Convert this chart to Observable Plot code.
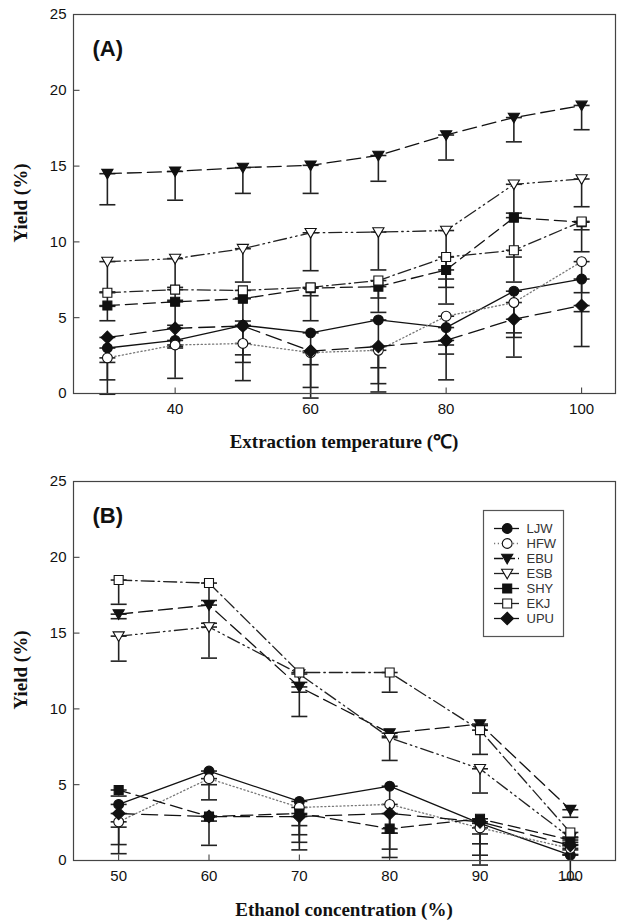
<!DOCTYPE html>
<html>
<head>
<meta charset="utf-8">
<script src="https://cdn.jsdelivr.net/npm/d3@7"></script>
<script src="https://cdn.jsdelivr.net/npm/@observablehq/plot@0.6"></script>
<style>
  html, body { margin: 0; padding: 0; background: #fff; }
  #wrap { position: relative; width: 620px; height: 924px; overflow: hidden; background: #fff; }
  .abs { position: absolute; }
  .title { position: absolute; font-family: "Liberation Serif", "Times New Roman", serif; font-weight: bold; font-size: 19px; color: #111; white-space: nowrap; }
</style>
</head>
<body>
<div id="wrap"></div>
<script>
// ---------------- data ----------------
const seriesNames = ["LJW", "HFW", "EBU", "ESB", "SHY", "EKJ", "UPU"];

// Panel A: extraction temperature (°C)
const tempX = [30, 40, 50, 60, 70, 80, 90, 100];
const A_LJW = [3.0, 3.5, 4.5, 4.0, 4.85, 4.35, 6.75, 7.55];
const A_HFW = [2.35, 3.2, 3.3, 2.7, 2.85, 5.1, 6.0, 8.7];
const A_EBU = [14.5, 14.65, 14.9, 15.05, 15.7, 17.05, 18.2, 19.0];
const A_ESB = [8.7, 8.9, 9.55, 10.6, 10.65, 10.75, 13.8, 14.15];
const A_SHY = [5.8, 6.05, 6.25, 6.95, 7.05, 8.15, 11.6, 11.3];
const A_EKJ = [6.65, 6.85, 6.8, 7.0, 7.45, 9.0, 9.45, 11.35];
const A_UPU = [3.7, 4.3, 4.45, 2.8, 3.1, 3.5, 4.9, 5.8];
// error bars (SD, drawn downward)
const A_LJW_err = [2.1, 2.5, 3.65, 3.6, 4.2, 3.45, 4.35, 0.9];
const A_HFW_err = [2.4, 0.2, 1.25, 3.0, 2.75, 2.5, 2.0, 3.3];
const A_EBU_err = [2.05, 1.9, 1.7, 1.85, 1.7, 1.65, 1.6, 1.6];
const A_ESB_err = [2.0, 1.9, 2.2, 2.5, 2.5, 3.2, 1.9, 1.83];
const A_SHY_err = [1.0, 1.55, 1.47, 2.15, 1.7, 2.25, 2.6, 0.5];
const A_EKJ_err = [0.9, 0.7, 0.5, 0.55, 1.15, 2.0, 2.1, 2.0];
const A_UPU_err = [1.65, 1.2, 1.9, 0.9, 1.4, 0.3, 1.2, 2.7];

// Panel B: ethanol concentration (%)
const ethX = [50, 60, 70, 80, 90, 100];
const B_LJW = [3.7, 5.9, 3.9, 4.9, 2.45, 0.35];
const B_HFW = [2.55, 5.4, 3.5, 3.7, 2.15, 0.8];
const B_EBU = [16.25, 16.85, 11.45, 8.4, 9.0, 3.35];
const B_ESB = [14.8, 15.4, 12.3, 8.1, 6.05, 1.5];
const B_SHY = [4.65, 2.9, 3.1, 2.1, 2.75, 1.35];
const B_EKJ = [18.5, 18.3, 12.4, 12.4, 8.6, 1.85];
const B_UPU = [3.1, 2.9, 2.9, 3.1, 2.55, 1.0];
const B_LJW_err = [1.5, 0.9, 2.2, 3.1, 1.35, 1.6];
const B_HFW_err = [1.5, 1.4, 2.8, 3.5, 2.45, 0.4];
const B_EBU_err = [0.3, 1.2, 1.95, 0.2, 0.1, 0.5];
const B_ESB_err = [1.65, 2.05, 0.55, 1.5, 1.6, 0.3];
const B_SHY_err = [0.4, 1.9, 0.8, 0.3, 1.0, 0.3];
const B_EKJ_err = [1.6, 1.15, 1.3, 1.3, 1.6, 0.3];
const B_UPU_err = [2.65, 0.3, 1.7, 2.35, 2.2, 0.3];

const yTicks = [0, 5, 10, 15, 20, 25];
const xTicksA = [40, 60, 80, 100];
const xTicksB = [50, 60, 70, 80, 90, 100];

// ---------------- symbols & styles ----------------
const symCircle = {draw(c) { c.moveTo(4.9, 0); c.arc(0, 0, 4.9, 0, 2 * Math.PI); c.closePath(); }};
const symSquare = {draw(c) { c.moveTo(-4.5, -4.5); c.lineTo(4.5, -4.5); c.lineTo(4.5, 4.5); c.lineTo(-4.5, 4.5); c.closePath(); }};
const symDown = {draw(c) { c.moveTo(-5.6, -4.3); c.lineTo(5.6, -4.3); c.lineTo(0, 5.3); c.closePath(); }};
const symDiamond = {draw(c) { c.moveTo(0, -6.3); c.lineTo(6.3, 0); c.lineTo(0, 6.3); c.lineTo(-6.3, 0); c.closePath(); }};
const symCap = {draw(c) { c.moveTo(-8, 0); c.lineTo(8, 0); }};
const symTickUp = {draw(c) { c.moveTo(0, 0); c.lineTo(0, -6); }};
const symTickRight = {draw(c) { c.moveTo(0, 0); c.lineTo(6, 0); }};

const styles = {
  LJW: {symbol: symCircle, fill: "#111", dash: null, legendDash: null, lineStroke: "#111"},
  HFW: {symbol: symCircle, fill: "#fff", dash: "1.2,2.6", legendDash: "1.2,2.6", lineStroke: "#777"},
  EBU: {symbol: symDown, fill: "#111", dash: "14,6", legendDash: "9,3", lineStroke: "#111"},
  ESB: {symbol: symDown, fill: "#fff", dash: "13,4,1.5,4,1.5,4", legendDash: null, lineStroke: "#222"},
  SHY: {symbol: symSquare, fill: "#111", dash: "12,6", legendDash: null, lineStroke: "#111"},
  EKJ: {symbol: symSquare, fill: "#fff", dash: "13,4,1.5,4", legendDash: null, lineStroke: "#222"},
  UPU: {symbol: symDiamond, fill: "#111", dash: "16,7", legendDash: null, lineStroke: "#111"}
};

function buildRows(xs, vals, errs) {
  const rows = [];
  seriesNames.forEach((s, i) => {
    xs.forEach((x, j) => rows.push({series: s, x, v: vals[i][j], e: errs[i][j]}));
  });
  return rows;
}

const rowsA = buildRows(tempX,
  [A_LJW, A_HFW, A_EBU, A_ESB, A_SHY, A_EKJ, A_UPU],
  [A_LJW_err, A_HFW_err, A_EBU_err, A_ESB_err, A_SHY_err, A_EKJ_err, A_UPU_err]);
const rowsB = buildRows(ethX,
  [B_LJW, B_HFW, B_EBU, B_ESB, B_SHY, B_EKJ, B_UPU],
  [B_LJW_err, B_HFW_err, B_EBU_err, B_ESB_err, B_SHY_err, B_EKJ_err, B_UPU_err]);

function panel(rows, xDomain, xTicks, label) {
  const marks = [
    Plot.ruleX(rows, {x: "x", y1: d => d.v - d.e, y2: "v", stroke: "#222", strokeWidth: 1.6}),
    Plot.dot(rows, {x: "x", y: d => d.v - d.e, symbol: symCap, stroke: "#222", strokeWidth: 1.6, fill: "none"}),
    Plot.dot(rows, {x: "x", y: "v", symbol: symCap, stroke: "#222", strokeWidth: 1.6, fill: "none"})
  ];
  seriesNames.forEach(s => {
    const st = styles[s];
    const data = rows.filter(d => d.series === s);
    marks.push(Plot.line(data, {x: "x", y: "v", stroke: st.lineStroke, strokeWidth: 1.3, strokeDasharray: st.dash || undefined}));
  });
  seriesNames.forEach(s => {
    const st = styles[s];
    const data = rows.filter(d => d.series === s);
    marks.push(Plot.dot(data, {x: "x", y: "v", symbol: st.symbol, fill: st.fill, stroke: "#111", strokeWidth: 1.1}));
  });
  marks.push(Plot.dot(xTicks, {x: d => d, frameAnchor: "bottom", symbol: symTickUp, stroke: "#333", strokeWidth: 1}));
  marks.push(Plot.dot(yTicks, {y: d => d, frameAnchor: "left", symbol: symTickRight, stroke: "#333", strokeWidth: 1}));
  marks.push(Plot.frame({stroke: "#444", strokeWidth: 1.2}));
  marks.push(Plot.text([label], {frameAnchor: "top-left", dx: 19, dy: 26, text: d => d, textAnchor: "start", fontSize: 22, fontWeight: "bold", fill: "#111"}));
  return Plot.plot({
    width: 620,
    height: 420,
    marginLeft: 73,
    marginRight: 5,
    marginTop: 14,
    marginBottom: 27,
    style: {fontFamily: "'Liberation Sans', Arial, sans-serif", fontSize: "15px", color: "#111", background: "transparent", overflow: "visible"},
    x: {domain: xDomain, ticks: xTicks, tickSize: 0, tickPadding: 10, label: null},
    y: {domain: [0, 25], ticks: yTicks, tickSize: 0, tickPadding: 7, label: null},
    marks
  });
}

const wrap = document.getElementById("wrap");

const svgA = panel(rowsA, [25, 105], xTicksA, "(A)");
svgA.classList.add("abs");
svgA.style.left = "0px"; svgA.style.top = "0px";
wrap.appendChild(svgA);

const svgB = panel(rowsB, [45, 105], xTicksB, "(B)");
svgB.classList.add("abs");
svgB.style.left = "0px"; svgB.style.top = "467px";
wrap.appendChild(svgB);

// Legend (panel B)
const legend = Plot.plot({
  width: 80, height: 126,
  marginLeft: 0, marginRight: 0, marginTop: 0, marginBottom: 0,
  style: {fontFamily: "'Liberation Sans', Arial, sans-serif", fontSize: "13px", background: "#fff", overflow: "visible"},
  x: {domain: [0, 80], range: [0, 80], axis: null},
  y: {type: "point", domain: seriesNames, range: [17.7, 108.3], padding: 0, axis: null},
  marks: [
    ...seriesNames.map(s => Plot.ruleY([s], {y: d => d, x1: 11, x2: 36, stroke: styles[s].lineStroke, strokeWidth: 1.3, strokeDasharray: styles[s].legendDash || undefined})),
    ...seriesNames.map(s => Plot.dot([s], {y: d => d, x: 23.7, symbol: styles[s].symbol, fill: styles[s].fill, stroke: "#111", strokeWidth: 1.1})),
    Plot.text(seriesNames, {y: d => d, x: 43, text: d => d, textAnchor: "start", fill: "#333", fontSize: 13}),
    Plot.frame({stroke: "#555", strokeWidth: 1.2})
  ]
});
legend.classList.add("abs");
legend.style.left = "483px"; legend.style.top = "510px";
wrap.appendChild(legend);

// Axis titles
function addTitle(text, cx, cy, rotate) {
  const d = document.createElement("div");
  d.className = "title";
  d.textContent = text;
  d.style.left = cx + "px";
  d.style.top = cy + "px";
  d.style.transform = "translate(-50%, -50%)" + (rotate ? " rotate(-90deg)" : "");
  wrap.appendChild(d);
}
addTitle("Yield (%)", 21, 203, true);
addTitle("Extraction temperature (\u2103)", 344, 441, false);
addTitle("Yield (%)", 21, 670, true);
addTitle("Ethanol concentration (%)", 344, 910, false);
</script>
</body>
</html>
